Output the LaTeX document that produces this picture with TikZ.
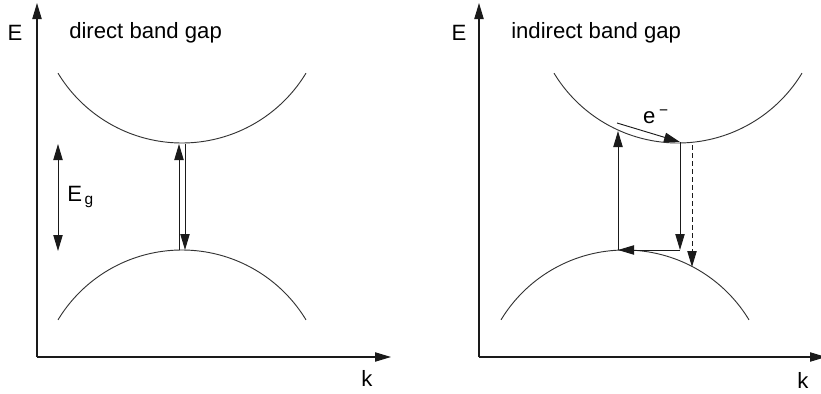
\documentclass[tikz,border=0pt]{standalone}
\usepackage{fontspec}
\setmainfont{Liberation Sans}
\usepackage{tikz}
\usetikzlibrary{arrows.meta,positioning,calc}
\definecolor{ink}{HTML}{1A1A1A}
\definecolor{bandgray}{HTML}{333333}
\tikzset{
  axis/.style={draw=ink,line width=.8pt,-{Triangle[length=12pt,width=7pt]}},
  band/.style={draw=bandgray,line width=.7pt},
  trans/.style={draw=ink,line width=.7pt,-{Triangle[length=12pt,width=7pt]}},
  twoway/.style={draw=ink,line width=.7pt,{Triangle[length=12pt,width=7pt]}-{Triangle[length=12pt,width=7pt]}},
  dashtrans/.style={trans,dashed,dash pattern=on 4pt off 2pt},
  lbl/.style={inner sep=0pt,font=\fontsize{16.6}{19}\selectfont}
}
\begin{document}
\begin{tikzpicture}[x=0.75pt,y=-0.75pt]
\useasboundingbox (0,0) rectangle (821,393);

% direct band gap
\coordinate (o1) at (37,357);
\draw[axis] (o1) -- (37,3);
\draw[axis] (o1) -- (391,357);
\node[lbl] (E1) at (15,33) {E};
\node[lbl,anchor=west] (t1) at (69,33) {direct band gap};
\node[lbl] (k1) at (367,378) {k};
\draw[band] plot[domain=-124:124,samples=80] ({182+\x},{-2+145*sqrt(1-(\x/145)^2)});
\draw[band] plot[domain=-124:124,samples=80] ({182+\x},{395-145*sqrt(1-(\x/145)^2)});
\coordinate (cb1a) at (179,144);
\coordinate (vb1a) at (179,250);
\coordinate (cb1b) at (185,144);
\coordinate (vb1b) at (185,250);
\draw[trans] (vb1a) -- (cb1a);
\draw[trans] (cb1b) -- (vb1b);
\coordinate (eg1) at (58,144);
\coordinate (eg2) at (58,251);
\draw[twoway] (eg1) -- (eg2);
\node[lbl,anchor=west] (Eg) at (67,197) {E\textsubscript{\,g}};

% indirect band gap
\coordinate (o2) at (479,357);
\draw[axis] (o2) -- (479,3);
\draw[axis] (o2) -- (826,357);
\node[lbl] (E2) at (459,33) {E};
\node[lbl,anchor=west] (t2) at (511,33) {indirect band gap};
\node[lbl] (k2) at (803,380) {k};
\draw[band] plot[domain=-124:124,samples=80] ({678+\x},{-2+145*sqrt(1-(\x/145)^2)});
\draw[band] plot[domain=-124:124,samples=80] ({625+\x},{395-145*sqrt(1-(\x/145)^2)});
\coordinate (vtop) at (618,250);
\coordinate (cup) at (618,131);
\coordinate (es) at (617,123);
\coordinate (cmin) at (680,142);
\coordinate (vcorner) at (680,250);
\coordinate (dtop) at (692,145);
\coordinate (dbot) at (692,267);
\draw[trans] (vtop) -- (cup);
\draw[trans] (es) -- (cmin);
\node[lbl] (el) at (656,117) {e\,\textsuperscript{−}};
\draw[trans] (cmin) -- (vcorner);
\draw[trans] (vcorner) -- (vtop);
\draw[dashtrans] (dtop) -- (dbot);
\end{tikzpicture}
\end{document}
